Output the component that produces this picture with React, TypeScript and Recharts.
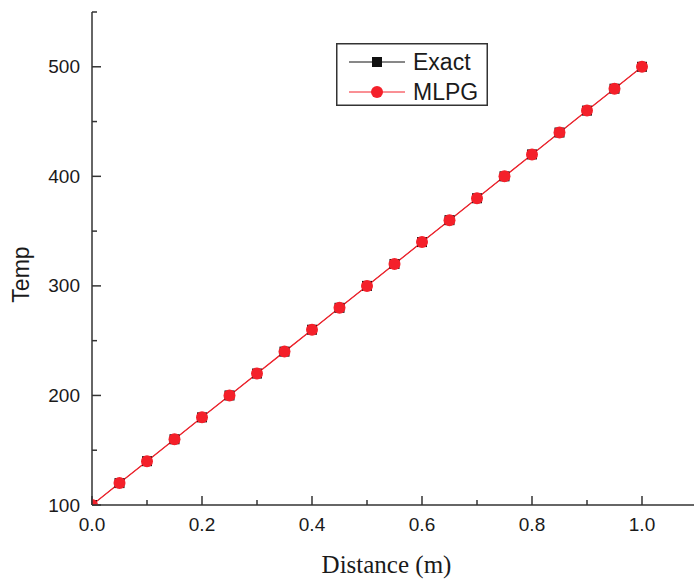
import React from 'react';
import { LineChart, Line, XAxis, YAxis, Legend } from 'recharts';

const distances = [0, 0.05, 0.1, 0.15, 0.2, 0.25, 0.3, 0.35, 0.4, 0.45, 0.5, 0.55, 0.6, 0.65, 0.7, 0.75, 0.8, 0.85, 0.9, 0.95, 1.0];
const exactTemps = [100, 120, 140, 160, 180, 200, 220, 240, 260, 280, 300, 320, 340, 360, 380, 400, 420, 440, 460, 480, 500];
const mlpgTemps = [100, 120, 140, 160, 180, 200, 220, 240, 260, 280, 300, 320, 340, 360, 380, 400, 420, 440, 460, 480, 500];
const xTicks = [0, 0.1, 0.2, 0.3, 0.4, 0.5, 0.6, 0.7, 0.8, 0.9, 1.0, 1.1];
const yTicks = [100, 150, 200, 250, 300, 350, 400, 450, 500, 550];
const seriesNames = ['Exact', 'MLPG'];

const data = distances.map((d, i) => ({ x: d, exact: exactTemps[i], mlpg: mlpgTemps[i] }));

const AXIS = '#333';
const TEXT = '#1a1a1a';
const RED = '#f4202a';
const BLACK = '#111';
const SANS = '"Liberation Sans", Arial, sans-serif';

const XTick = (props: any) => {
  const { x, y, payload } = props;
  const v = payload.value as number;
  const major = Math.round(v * 10) % 2 === 0;
  return (
    <g>
      <line x1={x} x2={x} y1={y} y2={y - (major ? 9 : 5)} stroke={AXIS} strokeWidth={1.5} />
      {major && (
        <text x={x} y={y + 26} textAnchor="middle" fill={TEXT} fontSize={19} fontFamily={SANS}>
          {v.toFixed(1)}
        </text>
      )}
    </g>
  );
};

const YTick = (props: any) => {
  const { x, y, payload } = props;
  const v = payload.value as number;
  const major = v % 100 === 0;
  return (
    <g>
      <line x1={x} x2={x + (major ? 9 : 5)} y1={y} y2={y} stroke={AXIS} strokeWidth={1.5} />
      {major && (
        <text x={x - 12} y={y} textAnchor="end" dominantBaseline="central" fill={TEXT} fontSize={19} fontFamily={SANS}>
          {v}
        </text>
      )}
    </g>
  );
};

const ExactDot = (props: any) => {
  const { cx, cy, index } = props;
  if (cx == null || cy == null) return <g key={`e-${index}`} />;
  return <rect key={`e-${index}`} x={cx - 5} y={cy - 5} width={10} height={10} fill={BLACK} />;
};

const renderLegend = () => (
  <svg width={152} height={63} style={{ display: 'block' }}>
    <rect x={0.75} y={0.75} width={150.5} height={61.5} fill="#fff" stroke={AXIS} strokeWidth={1.5} />
    <line x1={13} x2={69} y1={19} y2={19} stroke={BLACK} strokeWidth={1} />
    <rect x={36} y={14} width={10} height={10} fill={BLACK} />
    <text x={77} y={19} dominantBaseline="central" fontSize={23} fontFamily={SANS} fill={TEXT}>{seriesNames[0]}</text>
    <line x1={13} x2={69} y1={49} y2={49} stroke={RED} strokeWidth={1} />
    <circle cx={41} cy={49} r={6} fill={RED} />
    <text x={77} y={49} dominantBaseline="central" fontSize={23} fontFamily={SANS} fill={TEXT}>{seriesNames[1]}</text>
  </svg>
);

export default function App() {
  return (
    <div style={{ position: 'absolute', left: 0, top: 0, width: 694, height: 581, overflow: 'hidden', background: '#fff' }}>
      <LineChart width={700} height={581} data={data} margin={{ top: 12, right: 3, bottom: 0, left: 0 }}>
        <XAxis
          type="number"
          dataKey="x"
          domain={[0, 1.1]}
          ticks={xTicks}
          allowDataOverflow
          height={76}
          tickSize={0}
          tickMargin={0}
          tickLine={false}
          tick={<XTick />}
          axisLine={{ stroke: AXIS, strokeWidth: 1.5 }}
          interval={0}
          label={{ value: 'Distance (m)', position: 'insideBottom', offset: 8, dx: -8, fill: TEXT, fontSize: 25, fontFamily: '"Liberation Serif", "Times New Roman", serif' }}
        />
        <YAxis
          type="number"
          domain={[100, 550]}
          ticks={yTicks}
          allowDataOverflow
          width={92}
          tickSize={0}
          tickMargin={0}
          tickLine={false}
          tick={<YTick />}
          axisLine={{ stroke: AXIS, strokeWidth: 1.5 }}
          interval={0}
          label={{
            value: 'Temp',
            content: (p: any) => {
              const vb = p.viewBox || { x: 0, y: 12, width: 92, height: 493 };
              const lx = vb.x + 29;
              const ly = vb.y + vb.height / 2 + 16;
              return (
                <text x={lx} y={ly} transform={`rotate(-90 ${lx} ${ly})`} textAnchor="middle" fill={TEXT} fontSize={23} fontFamily={SANS}>
                  Temp
                </text>
              );
            },
          }}
        />
        <Legend
          layout="vertical"
          align="center"
          verticalAlign="middle"
          content={renderLegend}
          wrapperStyle={{ position: 'absolute', left: 336, top: 43, width: 152, height: 63 }}
        />
        <Line
          name={seriesNames[0]}
          dataKey="exact"
          stroke={BLACK}
          strokeWidth={0.6}
          dot={ExactDot}
          activeDot={false}
          isAnimationActive={false}
        />
        <Line
          name={seriesNames[1]}
          dataKey="mlpg"
          stroke={RED}
          strokeWidth={1.3}
          dot={{ r: 6, fill: RED, stroke: 'none' }}
          activeDot={false}
          isAnimationActive={false}
        />
      </LineChart>
    </div>
  );
}
